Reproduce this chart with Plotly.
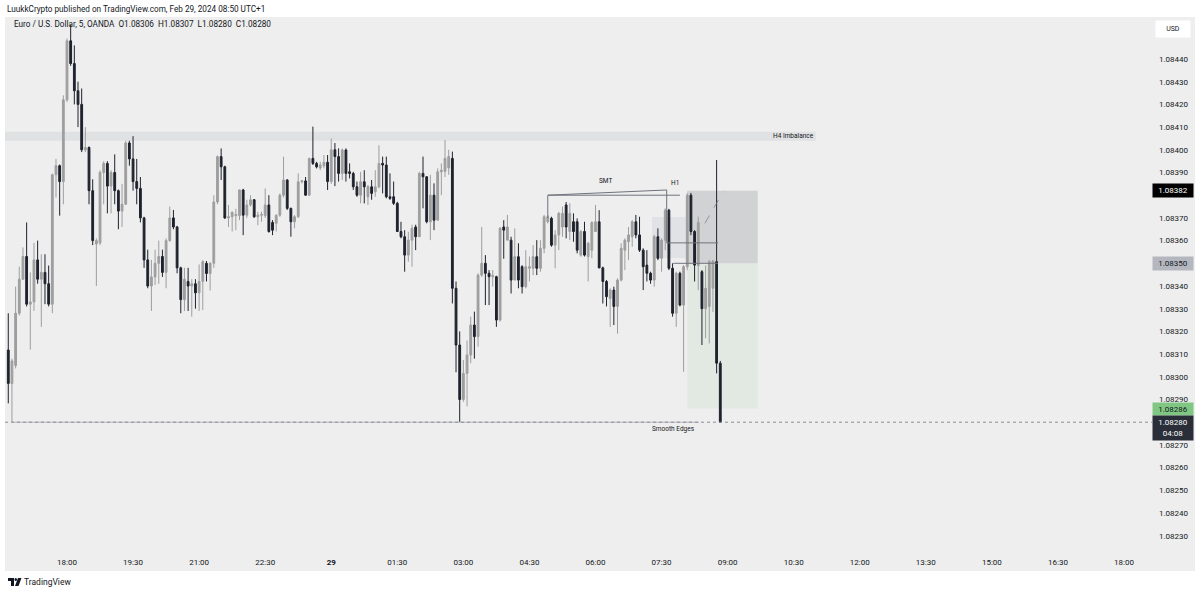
import plotly.graph_objects as go
import pandas as pd

# ---------------- data (EUR/USD, 5 min, OANDA) ----------------
times = pd.date_range("2024-02-28 16:40", periods=195, freq="5min")

opens = [
    1.083118, 1.082970, 1.083050, 1.083280, 1.083430, 1.083530, 1.083320, 1.083330, 1.083515, 1.083430,
    1.083460, 1.083410, 1.083320, 1.083890, 1.083930, 1.083860, 1.084220, 1.084480, 1.084380, 1.084260,
    1.084200, 1.084000, 1.084010, 1.083820, 1.083585, 1.083590, 1.083900, 1.083940, 1.083840, 1.083900,
    1.083820, 1.083730, 1.083760, 1.084030, 1.083960, 1.083860, 1.083830, 1.083700, 1.083515, 1.083400,
    1.083440, 1.083500, 1.083530, 1.083460, 1.083600, 1.083700, 1.083660, 1.083480, 1.083340, 1.083420,
    1.083400, 1.083410, 1.083370, 1.083420, 1.083500, 1.083455, 1.083500, 1.083770, 1.083970, 1.083925,
    1.083700, 1.083705, 1.083710, 1.083710, 1.083823, 1.083712, 1.083757, 1.083780, 1.083705, 1.083712,
    1.083710, 1.083757, 1.083680, 1.083676, 1.083712, 1.083800, 1.083867, 1.083742, 1.083683, 1.083705,
    1.083859, 1.083863, 1.083800, 1.083962, 1.083940, 1.083920, 1.083930, 1.083945, 1.083860, 1.084000,
    1.083970, 1.083896, 1.083999, 1.083903, 1.083896, 1.083837, 1.083800, 1.083859, 1.083793, 1.083837,
    1.083815, 1.083837, 1.083940, 1.083933, 1.083793, 1.083793, 1.083764, 1.083640, 1.083617, 1.083536,
    1.083602, 1.083660, 1.083617, 1.083896, 1.083881, 1.083683, 1.083800, 1.083690, 1.083903, 1.083905,
    1.083920, 1.083962, 1.083390, 1.083140, 1.082900, 1.083015, 1.083096, 1.083228, 1.083177, 1.083448,
    1.083500, 1.083456, 1.083441, 1.083441, 1.083250, 1.083660, 1.083602, 1.083602, 1.083426, 1.083529,
    1.083485, 1.083397, 1.083478, 1.083478, 1.083529, 1.083478, 1.083566, 1.083683, 1.083698, 1.083580,
    1.083625, 1.083660, 1.083757, 1.083640, 1.083683, 1.083683, 1.083536, 1.083640, 1.083530, 1.083558,
    1.083640, 1.083683, 1.083480, 1.083420, 1.083345, 1.083382, 1.083310, 1.083426, 1.083558, 1.083595,
    1.083617, 1.083683, 1.083625, 1.083558, 1.083492, 1.083456, 1.083426, 1.083617, 1.083522, 1.083602,
    1.083734, 1.083478, 1.083280, 1.083456, 1.083316, 1.083485, 1.083800, 1.083640, 1.083490, 1.083463,
    1.083300, 1.083310, 1.083390, 1.083507, 1.083060,
]

highs = [
    1.083280, 1.083080, 1.083397, 1.083485, 1.083570, 1.083680, 1.083460, 1.083590, 1.083600, 1.083540,
    1.083540, 1.083490, 1.083895, 1.083960, 1.083935, 1.084240, 1.084490, 1.084550, 1.084460, 1.084300,
    1.084270, 1.084100, 1.084015, 1.083870, 1.083610, 1.083910, 1.083950, 1.083950, 1.083910, 1.083980,
    1.083825, 1.083850, 1.084040, 1.084040, 1.084060, 1.083960, 1.083880, 1.083705, 1.083560, 1.083515,
    1.083560, 1.083600, 1.083560, 1.083610, 1.083750, 1.083735, 1.083665, 1.083485, 1.083480, 1.083480,
    1.083430, 1.083430, 1.083495, 1.083514, 1.083510, 1.083505, 1.083800, 1.083975, 1.084006, 1.083930,
    1.083757, 1.083727, 1.083740, 1.083825, 1.083828, 1.083780, 1.083800, 1.083783, 1.083727, 1.083727,
    1.083830, 1.083800, 1.083690, 1.083715, 1.083808, 1.083970, 1.083870, 1.083745, 1.083712, 1.083896,
    1.083867, 1.083880, 1.083965, 1.084102, 1.083947, 1.083947, 1.083977, 1.083977, 1.084050, 1.084030,
    1.084006, 1.084006, 1.084006, 1.083940, 1.083903, 1.083860, 1.083903, 1.083910, 1.083845, 1.083867,
    1.083910, 1.084020, 1.083970, 1.083970, 1.083896, 1.083860, 1.083771, 1.083683, 1.083646, 1.083639,
    1.083670, 1.083670, 1.083903, 1.083970, 1.083884, 1.083890, 1.083852, 1.083918, 1.083940, 1.084043,
    1.084000, 1.083992, 1.083420, 1.083200, 1.083074, 1.083160, 1.083265, 1.083287, 1.083456, 1.083660,
    1.083536, 1.083470, 1.083470, 1.083445, 1.083660, 1.083690, 1.083713, 1.083617, 1.083654, 1.083588,
    1.083492, 1.083558, 1.083530, 1.083580, 1.083602, 1.083602, 1.083713, 1.083713, 1.083705, 1.083646,
    1.083727, 1.083750, 1.083770, 1.083764, 1.083720, 1.083698, 1.083646, 1.083683, 1.083595, 1.083685,
    1.083757, 1.083734, 1.083485, 1.083426, 1.083390, 1.083397, 1.083434, 1.083588, 1.083610, 1.083660,
    1.083690, 1.083713, 1.083705, 1.083566, 1.083558, 1.083463, 1.083625, 1.083654, 1.083610, 1.083742,
    1.083740, 1.083500, 1.083463, 1.083463, 1.083492, 1.083810, 1.083810, 1.083646, 1.083705, 1.083470,
    1.083490, 1.083514, 1.083514, 1.083955, 1.083070,
]

lows = [
    1.082883, 1.082800, 1.083037, 1.083270, 1.083427, 1.083310, 1.083120, 1.083290, 1.083410, 1.083220,
    1.083320, 1.083310, 1.083280, 1.083790, 1.083710, 1.083760, 1.084210, 1.084370, 1.084200, 1.084100,
    1.083990, 1.083990, 1.083760, 1.083580, 1.083400, 1.083580, 1.083760, 1.083720, 1.083720, 1.083760,
    1.083650, 1.083660, 1.083757, 1.083930, 1.083820, 1.083760, 1.083680, 1.083480, 1.083390, 1.083290,
    1.083405, 1.083410, 1.083440, 1.083390, 1.083595, 1.083650, 1.083456, 1.083280, 1.083290, 1.083290,
    1.083265, 1.083300, 1.083290, 1.083294, 1.083420, 1.083380, 1.083480, 1.083760, 1.083867, 1.083695,
    1.083660, 1.083640, 1.083646, 1.083690, 1.083624, 1.083700, 1.083750, 1.083700, 1.083668, 1.083683,
    1.083700, 1.083635, 1.083624, 1.083640, 1.083705, 1.083790, 1.083735, 1.083617, 1.083654, 1.083700,
    1.083852, 1.083798, 1.083798, 1.083933, 1.083918, 1.083910, 1.083918, 1.083823, 1.083850, 1.083840,
    1.083860, 1.083867, 1.083860, 1.083874, 1.083823, 1.083793, 1.083764, 1.083764, 1.083757, 1.083780,
    1.083793, 1.083830, 1.083808, 1.083786, 1.083779, 1.083757, 1.083639, 1.083610, 1.083463, 1.083507,
    1.083485, 1.083558, 1.083617, 1.083742, 1.083676, 1.083602, 1.083646, 1.083690, 1.083800, 1.083880,
    1.083890, 1.083323, 1.083020, 1.082800, 1.082890, 1.082870, 1.083060, 1.083080, 1.083133, 1.083440,
    1.083316, 1.083316, 1.083397, 1.083220, 1.083243, 1.083520, 1.083602, 1.083367, 1.083426, 1.083390,
    1.083367, 1.083390, 1.083420, 1.083448, 1.083448, 1.083463, 1.083544, 1.083676, 1.083573, 1.083478,
    1.083558, 1.083617, 1.083610, 1.083602, 1.083595, 1.083544, 1.083529, 1.083530, 1.083420, 1.083522,
    1.083640, 1.083478, 1.083323, 1.083310, 1.083220, 1.083228, 1.083190, 1.083420, 1.083470, 1.083514,
    1.083573, 1.083610, 1.083550, 1.083382, 1.083420, 1.083410, 1.083397, 1.083514, 1.083463, 1.083558,
    1.083470, 1.083265, 1.083220, 1.083310, 1.083022, 1.083470, 1.083624, 1.083420, 1.083382, 1.083140,
    1.083170, 1.083147, 1.083286, 1.083015, 1.082800,
]

closes = [
    1.082971, 1.083070, 1.083280, 1.083430, 1.083530, 1.083320, 1.083330, 1.083515, 1.083430, 1.083460,
    1.083410, 1.083320, 1.083890, 1.083930, 1.083860, 1.084220, 1.084480, 1.084380, 1.084260, 1.084200,
    1.084000, 1.084010, 1.083820, 1.083600, 1.083600, 1.083900, 1.083940, 1.083840, 1.083900, 1.083820,
    1.083730, 1.083760, 1.084030, 1.083960, 1.083860, 1.083830, 1.083700, 1.083515, 1.083400, 1.083440,
    1.083500, 1.083530, 1.083460, 1.083600, 1.083700, 1.083660, 1.083480, 1.083340, 1.083430, 1.083400,
    1.083410, 1.083370, 1.083420, 1.083507, 1.083455, 1.083500, 1.083770, 1.083970, 1.083925, 1.083700,
    1.083705, 1.083725, 1.083715, 1.083823, 1.083712, 1.083757, 1.083780, 1.083705, 1.083712, 1.083715,
    1.083757, 1.083640, 1.083646, 1.083712, 1.083800, 1.083867, 1.083742, 1.083683, 1.083705, 1.083859,
    1.083863, 1.083800, 1.083962, 1.083940, 1.083925, 1.083933, 1.083945, 1.083860, 1.084000, 1.083970,
    1.083896, 1.083999, 1.083896, 1.083896, 1.083837, 1.083800, 1.083859, 1.083837, 1.083837, 1.083808,
    1.083837, 1.083940, 1.083933, 1.083793, 1.083786, 1.083764, 1.083640, 1.083617, 1.083536, 1.083602,
    1.083654, 1.083617, 1.083896, 1.083881, 1.083683, 1.083800, 1.083690, 1.083903, 1.083910, 1.083962,
    1.083970, 1.083390, 1.083140, 1.082900, 1.083015, 1.083096, 1.083228, 1.083177, 1.083448, 1.083500,
    1.083456, 1.083441, 1.083446, 1.083250, 1.083654, 1.083646, 1.083660, 1.083426, 1.083529, 1.083426,
    1.083397, 1.083485, 1.083485, 1.083529, 1.083478, 1.083566, 1.083705, 1.083705, 1.083580, 1.083625,
    1.083720, 1.083720, 1.083660, 1.083720, 1.083640, 1.083558, 1.083640, 1.083536, 1.083588, 1.083680,
    1.083683, 1.083480, 1.083420, 1.083353, 1.083382, 1.083310, 1.083426, 1.083566, 1.083602, 1.083625,
    1.083683, 1.083625, 1.083558, 1.083485, 1.083456, 1.083426, 1.083617, 1.083522, 1.083602, 1.083734,
    1.083478, 1.083280, 1.083456, 1.083316, 1.083485, 1.083800, 1.083640, 1.083492, 1.083680, 1.083300,
    1.083390, 1.083507, 1.083510, 1.083060, 1.082800,
]

x_tick_vals = pd.date_range("2024-02-28 18:00", "2024-02-29 18:00", freq="90min")
x_tick_text = ["18:00", "19:30", "21:00", "22:30", "<b>29</b>", "01:30", "03:00", "04:30", "06:00",
               "07:30", "09:00", "10:30", "12:00", "13:30", "15:00", "16:30", "18:00"]
y_tick_vals = [1.08440, 1.08430, 1.08420, 1.08410, 1.08400, 1.08390, 1.08370, 1.08360, 1.08340,
               1.08330, 1.08320, 1.08310, 1.08300, 1.08290, 1.08270, 1.08260, 1.08250, 1.08240, 1.08230]

# drawings (time / price)
IMB_END, IMB_LO, IMB_HI = "2024-02-29 11:00", 1.08404, 1.08408
SMT_T0, SMT_P0 = "2024-02-29 04:55", 1.083800
SMT_T1, SMT_P1 = "2024-02-29 07:37", 1.083823
SMT_BASE = 1.083700
H1_END, H1_P = "2024-02-29 07:55", 1.083800
H1_LOW, H1_LOW_END = 1.083590, "2024-02-29 08:47"
ENTRY_LINE_T0 = "2024-02-29 07:46"
FVG_T0, FVG_T1, FVG_LO, FVG_HI = "2024-02-29 07:17", "2024-02-29 08:05", 1.083523, 1.083704
POS_T0, POS_T1 = "2024-02-29 08:05", "2024-02-29 09:41"
STOP, ENTRY, TARGET = 1.08382, 1.08350, 1.08286
DASH_T0, DASH_P0, DASH_T1, DASH_P1 = "2024-02-29 08:29", 1.083676, "2024-02-29 08:54", 1.083815
SMOOTH_T0, SMOOTH_T1, SMOOTH_P = "2024-02-28 16:45", "2024-02-29 08:21", 1.08280
LAST_PRICE = 1.08280

# ---------------- styling ----------------
UP = "#9e9e9e"
DN = "#1e222d"
TXT = "#131722"
BG = "#eeeeee"
FONT = "Roboto"

L, R, T, B = 5, 1145, 17, 548


def px(xp):
    return (xp - L) / (R - L)


def py(yp):
    return (B - yp) / (B - T)


fig = go.Figure(go.Candlestick(
    x=times, open=opens, high=highs, low=lows, close=closes,
    increasing=dict(line=dict(color=UP, width=1), fillcolor=UP),
    decreasing=dict(line=dict(color=DN, width=1), fillcolor=DN),
    whiskerwidth=0, hoverinfo="skip",
))

shapes = []
# whole chart pane background (incl. axes)
shapes.append(dict(type="rect", xref="paper", yref="paper", x0=px(5), x1=px(1195), y0=py(571), y1=py(17),
                   fillcolor=BG, line=dict(width=0), layer="below"))
# H4 imbalance band
shapes.append(dict(type="rect", xref="x", yref="y", x0="2024-02-28 16:00", x1=IMB_END, y0=IMB_LO, y1=IMB_HI,
                   fillcolor="#e0e1e3", line=dict(width=0), layer="below"))
# FVG-ish light box
shapes.append(dict(type="rect", xref="x", yref="y", x0=FVG_T0, x1=FVG_T1, y0=FVG_LO, y1=FVG_HI,
                   fillcolor="#e1e2e6", line=dict(width=0), layer="below"))
# position tool
shapes.append(dict(type="rect", xref="x", yref="y", x0=POS_T0, x1=POS_T1, y0=ENTRY, y1=STOP,
                   fillcolor="rgba(110,112,120,0.22)", line=dict(width=0), layer="below"))
shapes.append(dict(type="rect", xref="x", yref="y", x0=POS_T0, x1=POS_T1, y0=TARGET, y1=ENTRY,
                   fillcolor="rgba(76,175,80,0.07)", line=dict(width=0), layer="below"))
shapes.append(dict(type="line", xref="x", yref="y", x0=DASH_T0, x1=DASH_T1, y0=DASH_P0, y1=DASH_P1,
                   line=dict(color="rgba(120,123,134,0.7)", width=1, dash="dash")))
# SMT / H1 drawings
LC = "#6f727c"
shapes += [
    dict(type="line", xref="x", yref="y", x0=SMT_T0, x1=SMT_T1, y0=SMT_P0, y1=SMT_P1, line=dict(color=LC, width=1)),
    dict(type="line", xref="x", yref="y", x0=SMT_T0, x1=SMT_T0, y0=SMT_BASE, y1=SMT_P0, line=dict(color=LC, width=1)),
    dict(type="line", xref="x", yref="y", x0=SMT_T0, x1=H1_END, y0=H1_P, y1=H1_P, line=dict(color=LC, width=1)),
    dict(type="line", xref="x", yref="y", x0=SMT_T1, x1=SMT_T1, y0=H1_LOW, y1=SMT_P1, line=dict(color=LC, width=1)),
    dict(type="line", xref="x", yref="y", x0=SMT_T1, x1=H1_LOW_END, y0=H1_LOW, y1=H1_LOW, line=dict(color=LC, width=1)),
    dict(type="line", xref="x", yref="y", x0=ENTRY_LINE_T0, x1=H1_LOW_END, y0=ENTRY, y1=ENTRY, line=dict(color=LC, width=1)),
]
# smooth edges line and last price dotted line
shapes.append(dict(type="line", xref="x", yref="y", x0=SMOOTH_T0, x1=SMOOTH_T1, y0=SMOOTH_P, y1=SMOOTH_P,
                   line=dict(color="#b4b6bd", width=1)))
shapes.append(dict(type="line", xref="paper", yref="y", x0=0, x1=px(1152), y0=LAST_PRICE, y1=LAST_PRICE,
                   line=dict(color="#8a8d96", width=1, dash="dot")))
# TradingView logo (small glyph)
shapes += [
    dict(type="rect", xref="paper", yref="paper", x0=px(8), x1=px(14), y0=py(581), y1=py(578),
         fillcolor=TXT, line=dict(width=0)),
    dict(type="rect", xref="paper", yref="paper", x0=px(11), x1=px(14), y0=py(586), y1=py(578),
         fillcolor=TXT, line=dict(width=0)),
    dict(type="circle", xref="paper", yref="paper", x0=px(14.5), x1=px(17), y0=py(581), y1=py(578),
         fillcolor=TXT, line=dict(width=0)),
    dict(type="path", xref="paper", yref="paper",
         path=f"M {px(18)} {py(578)} L {px(21.5)} {py(578)} L {px(18.5)} {py(586)} L {px(15)} {py(586)} Z",
         fillcolor=TXT, line=dict(width=0)),
]

ann = []


def label(text, x, y, xref="paper", yref="paper", size=8, color=TXT, xanchor="left", yanchor="middle", **kw):
    ann.append(dict(text=text, x=x, y=y, xref=xref, yref=yref, showarrow=False,
                    font=dict(family=FONT, size=size, color=color), xanchor=xanchor, yanchor=yanchor, **kw))


label("LuukkCrypto published on TradingView.com, Feb 29, 2024 08:50 UTC+1", px(5), py(9), size=8.2)
label("Euro / U.S. Dollar, 5, OANDA  O1.08306  H1.08307  L1.08280  C1.08280", px(12), py(24), size=8.2)
label("TradingView", px(22), py(582), size=8.5)
label("H4 Imbalance", IMB_END, (IMB_LO + IMB_HI) / 2, xref="x", yref="y", size=6.5, xanchor="right")
label("SMT", "2024-02-29 06:14", 1.083836, xref="x", yref="y", size=6.5, xanchor="center", yanchor="bottom")
label("H1", "2024-02-29 07:48", 1.083827, xref="x", yref="y", size=6.5, xanchor="center", yanchor="bottom")
label("Smooth Edges", "2024-02-29 07:46", SMOOTH_P, xref="x", yref="y", size=6.5, xanchor="center",
      yanchor="top", yshift=-1)

# price-scale boxes
BX = px(1173)
label("USD", BX, py(29), size=7, xanchor="center", bgcolor="#ffffff", width=32, height=14)
label("1.08382", BX, STOP, yref="y", size=8, color="#ffffff", xanchor="center", bgcolor="#000000",
      width=38, height=11)
label("1.08350", BX, ENTRY, yref="y", size=8, xanchor="center", bgcolor="#b4b7bf", width=38, height=11)
label("1.08286", BX, TARGET, yref="y", size=8, xanchor="center", bgcolor="#81c784", width=38, height=10)
label("1.08280<br>04:08", BX, LAST_PRICE, yref="y", size=8, color="#ffffff", xanchor="center",
      yanchor="top", yshift=7, bgcolor="#2a2e39", width=38, height=22)

fig.update_layout(
    width=1200, height=594, autosize=False,
    margin=dict(l=L, r=1200 - R, t=T, b=594 - B),
    paper_bgcolor="#ffffff", plot_bgcolor=BG,
    showlegend=False, shapes=shapes, annotations=ann,
    font=dict(family=FONT, size=8, color=TXT),
    xaxis=dict(
        range=["2024-02-28 16:35:32", "2024-02-29 18:28:37"], type="date",
        rangeslider=dict(visible=False), showgrid=False, zeroline=False, showline=False,
        tickvals=x_tick_vals, ticktext=x_tick_text, ticks="", tickfont=dict(size=8, color=TXT, family=FONT),
        ticklabelstandoff=8, fixedrange=True,
    ),
    yaxis=dict(
        range=[1.0822458, 1.084585], side="right", showgrid=False, zeroline=False, showline=False,
        tickvals=y_tick_vals, ticktext=[f"{v:.5f}" for v in y_tick_vals], ticks="",
        tickfont=dict(size=8, color=TXT, family=FONT), ticklabelstandoff=13, fixedrange=True,
    ),
)

fig.write_html("out.html", config={"displayModeBar": False},
               post_script="document.body.style.margin='0';document.body.style.overflow='hidden';")
